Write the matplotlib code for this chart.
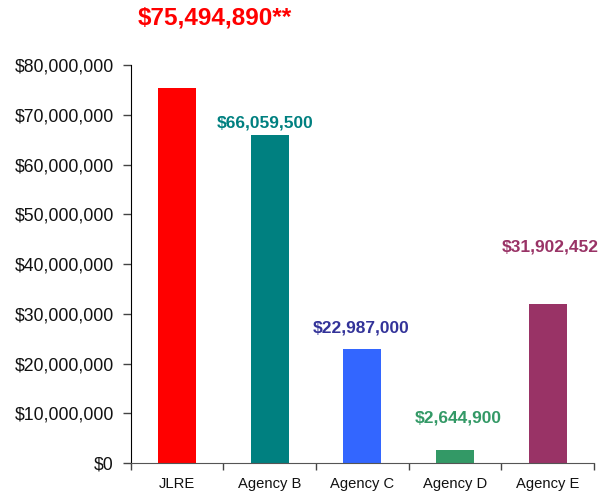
import matplotlib
matplotlib.use("Agg")
import matplotlib.pyplot as plt
from matplotlib.ticker import FuncFormatter, FixedLocator, NullFormatter
import numpy as np

categories = ["JLRE", "Agency B", "Agency C", "Agency D", "Agency E"]
values = [75494890, 66059500, 22987000, 2644900, 31902452]
bar_colors = ["#FF0000", "#008080", "#3366FF", "#339966", "#993366"]
label_colors = ["#FF0000", "#008080", "#333399", "#339966", "#993366"]
label_texts = ["$75,494,890**", "$66,059,500", "$22,987,000", "$2,644,900", "$31,902,452"]
label_y = [89.6e6, 68.4e6, 27.1e6, 9.0e6, 43.5e6]
label_x_shift = [0.41, -0.05, -0.01, 0.04, 0.03]
label_sizes = [17.5, 12.5, 12.5, 12.5, 12.5]

plt.rcParams['font.family'] = ['Liberation Sans', 'DejaVu Sans']

fig = plt.figure(figsize=(6.0, 4.94), dpi=100)
ax = fig.add_axes([0.2175, 0.0628, 0.7725, 0.805])

x = np.arange(len(categories))
ax.bar(x, values, width=0.41, color=bar_colors, zorder=2)

ax.set_xlim(-0.5, len(categories) - 0.5)
ax.set_ylim(0, 80e6)
ax.set_yticks(np.arange(0, 80e6 + 1, 10e6))
ax.yaxis.set_major_formatter(FuncFormatter(lambda v, p: "${:,.0f}".format(v)))
ax.tick_params(axis='y', labelsize=12.7, length=6, width=1, direction='out', pad=6,
               color='#444444', labelcolor='#111111')

ax.set_xticks(x)
ax.set_xticklabels(categories)
ax.tick_params(axis='x', which='major', length=0, labelsize=10.6, pad=10, labelcolor='#111111')
ax.xaxis.set_minor_locator(FixedLocator(np.arange(-0.5, len(categories), 1.0)))
ax.xaxis.set_minor_formatter(NullFormatter())
ax.tick_params(axis='x', which='minor', length=5, width=1, color='#444444')

for s in ['top', 'right']:
    ax.spines[s].set_visible(False)
ax.spines['left'].set_color('black')
ax.spines['bottom'].set_color('#555555')

for i in range(len(categories)):
    ax.text(x[i] + label_x_shift[i], label_y[i], label_texts[i], color=label_colors[i],
            fontsize=label_sizes[i], fontweight='bold', ha='center', va='center',
            clip_on=False)

fig.savefig("out.png", dpi=100)
